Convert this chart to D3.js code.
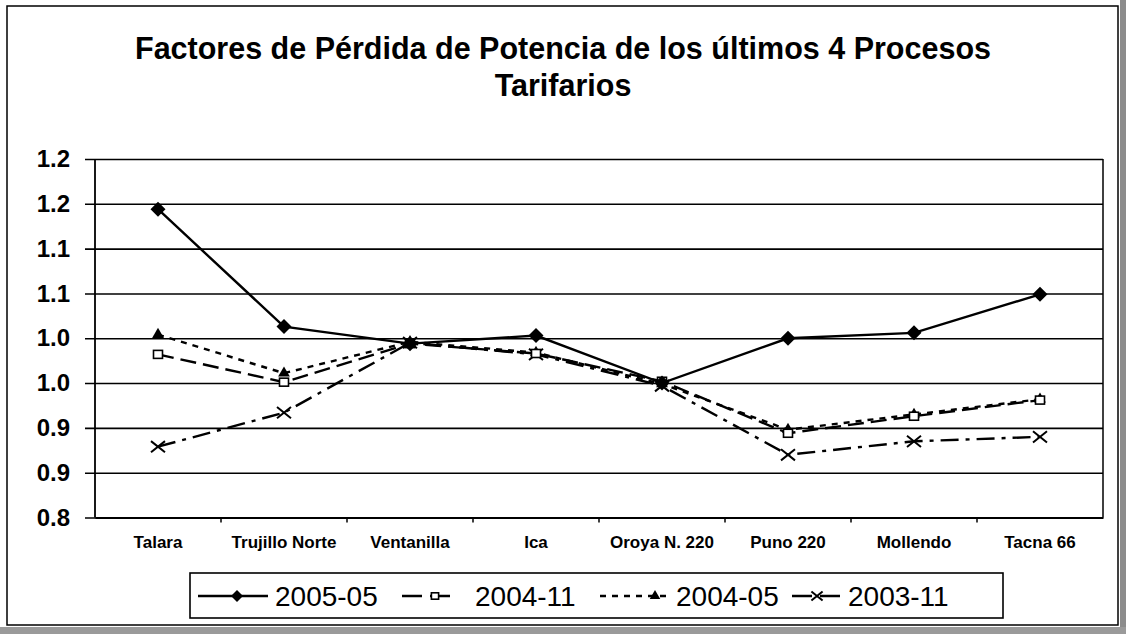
<!DOCTYPE html>
<html>
<head>
<meta charset="utf-8">
<script src="https://cdn.jsdelivr.net/npm/d3@7"></script>
<style>
  body { margin: 0; background: #fff; }
  text { font-family: "Liberation Sans", Arial, sans-serif; fill: #000; }
</style>
</head>
<body>
<div id="chart"></div>
<script>
// data
var categories = ['Talara', 'Trujillo Norte', 'Ventanilla', 'Ica', 'Oroya N. 220', 'Puno 220', 'Mollendo', 'Tacna 66'];
var serie200505 = [1.144, 1.013, 0.994, 1.003, 0.950, 1.000, 1.006, 1.049];
var serie200411 = [0.982, 0.951, 0.994, 0.983, 0.952, 0.894, 0.913, 0.931];
var serie200405 = [1.004, 0.961, 0.996, 0.984, 0.949, 0.898, 0.915, 0.932];
var serie200311 = [0.879, 0.917, 0.995, 0.982, 0.947, 0.870, 0.885, 0.890];
var seriesNames = ['2005-05', '2004-11', '2004-05', '2003-11'];
var yTicks = [0.8, 0.85, 0.9, 0.95, 1.0, 1.05, 1.1, 1.15, 1.2];
var yTickLabels = ['0.8', '0.9', '0.9', '1.0', '1.0', '1.1', '1.1', '1.2', '1.2'];

(function() {
var W = 1126, H = 634;
var pLeft = 95, pRight = 1103, pTop = 159, pBottom = 517.5;

var svg = d3.select('#chart').append('svg')
    .attr('width', W)
    .attr('height', H);

svg.append('rect').attr('width', W).attr('height', H).attr('fill', '#fff');

// scanned page edges
svg.append('rect').attr('x', 1120).attr('y', 0).attr('width', 6).attr('height', H).attr('fill', '#8c8c8c');
svg.append('rect').attr('x', 0).attr('y', 627).attr('width', W).attr('height', 7).attr('fill', '#9a9a9a');

// outer chart border
svg.append('rect')
    .attr('x', 7).attr('y', 6).attr('width', 1111).attr('height', 619)
    .attr('fill', 'none').attr('stroke', '#000').attr('stroke-width', 1.5);

// title
var title = svg.append('text')
    .attr('text-anchor', 'middle')
    .style('font-size', '30.5px')
    .style('font-weight', 'bold');
title.append('tspan').attr('x', 563).attr('y', 59).text('Factores de Pérdida de Potencia de los últimos 4 Procesos');
title.append('tspan').attr('x', 563).attr('y', 96).text('Tarifarios');

var x = d3.scaleBand().domain(categories).range([pLeft, pRight]).padding(0);
var y = d3.scaleLinear().domain([0.8, 1.2]).range([pBottom, pTop]);

// grid lines with outward ticks
var yAxis = d3.axisLeft(y)
    .tickValues(yTicks)
    .tickFormat(function(d, i) { return yTickLabels[i]; })
    .tickSizeOuter(0)
    .tickPadding(14);

var gy = svg.append('g')
    .attr('transform', 'translate(' + (pLeft - 10) + ',0)')
    .call(yAxis);
gy.select('.domain').remove();
gy.selectAll('.tick line')
    .attr('x1', 0).attr('x2', pRight - pLeft + 10)
    .attr('stroke', '#000').attr('stroke-width', 1.6);
gy.selectAll('.tick text')
    .attr('x', -15)
    .style('font-size', '24px')
    .style('font-weight', 'bold')
    .attr('fill', '#000');

// plot area frame
svg.append('line').attr('x1', pLeft).attr('x2', pLeft).attr('y1', pTop).attr('y2', pBottom)
    .attr('stroke', '#000').attr('stroke-width', 1.8);
svg.append('line').attr('x1', pRight).attr('x2', pRight).attr('y1', pTop).attr('y2', pBottom)
    .attr('stroke', '#000').attr('stroke-width', 1.5);

// x axis: ticks between categories
var xAxis = d3.axisBottom(x).tickSize(0).tickPadding(18);
var gx = svg.append('g')
    .attr('transform', 'translate(0,' + pBottom + ')')
    .call(xAxis);
gx.select('.domain').attr('stroke', '#000').attr('stroke-width', 1.8);
gx.selectAll('.tick text')
    .style('font-size', '17px')
    .style('font-weight', 'bold')
    .attr('fill', '#000');
gx.selectAll('.sep')
    .data(categories.slice(1))
    .enter().append('line')
    .attr('class', 'sep')
    .attr('x1', function(d) { return x(d); })
    .attr('x2', function(d) { return x(d); })
    .attr('y1', 0).attr('y2', 5)
    .attr('stroke', '#000').attr('stroke-width', 1.5);

var cx = function(i) { return x(categories[i]) + x.bandwidth() / 2; };

var seriesData = [
  { name: seriesNames[0], values: serie200505, dash: null, marker: 'diamond' },
  { name: seriesNames[1], values: serie200411, dash: '16,7', marker: 'square' },
  { name: seriesNames[2], values: serie200405, dash: '6,6', marker: 'triangle' },
  { name: seriesNames[3], values: serie200311, dash: '18,7,4,7', marker: 'cross' }
];

var line = d3.line()
    .x(function(d, i) { return cx(i); })
    .y(function(d) { return y(d); });

function drawMarker(g, type, px, py, s) {
  s = s || 1;
  if (type === 'diamond') {
    var r = 7.5 * s;
    g.append('path')
      .attr('d', 'M' + px + ',' + (py - r) + 'L' + (px + r) + ',' + py +
                 'L' + px + ',' + (py + r) + 'L' + (px - r) + ',' + py + 'Z')
      .attr('fill', '#000');
  } else if (type === 'square') {
    g.append('rect')
      .attr('x', px - 4.5 * s).attr('y', py - 4 * s)
      .attr('width', 9 * s).attr('height', 8 * s)
      .attr('fill', '#fff').attr('stroke', '#000').attr('stroke-width', 1.6);
  } else if (type === 'triangle') {
    g.append('path')
      .attr('d', d3.symbol().type(d3.symbolTriangle).size(60 * s)())
      .attr('transform', 'translate(' + px + ',' + py + ')')
      .attr('fill', '#000');
  } else {
    var q = 7 * s;
    g.append('path')
      .attr('d', 'M' + (px - q) + ',' + (py - q * 0.8) + 'L' + (px + q) + ',' + (py + q * 0.8) +
                 'M' + (px - q) + ',' + (py + q * 0.8) + 'L' + (px + q) + ',' + (py - q * 0.8))
      .attr('stroke', '#000').attr('stroke-width', 2).attr('fill', 'none');
  }
}

var plot = svg.append('g');
seriesData.slice().reverse().forEach(function(s) {
  plot.append('path')
    .datum(s.values)
    .attr('d', line)
    .attr('fill', 'none')
    .attr('stroke', '#000')
    .attr('stroke-width', 2.4)
    .attr('stroke-dasharray', s.dash);
  s.values.forEach(function(v, i) {
    drawMarker(plot, s.marker, cx(i), y(v));
  });
});

// legend
var legend = svg.append('g');
legend.append('rect')
    .attr('x', 190).attr('y', 573).attr('width', 813).attr('height', 45)
    .attr('fill', '#fff').attr('stroke', '#000').attr('stroke-width', 1.6);

var legendItems = [
  { x1: 198, x2: 268, m: 237, t: 275 },
  { x1: 402, x2: 455, m: 435, t: 475 },
  { x1: 600, x2: 668, m: 655, t: 676 },
  { x1: 792, x2: 840, m: 817, t: 848 }
];
legendItems.forEach(function(it, i) {
  var s = seriesData[i];
  legend.append('line')
    .attr('x1', it.x1).attr('x2', it.x2).attr('y1', 596).attr('y2', 596)
    .attr('stroke', '#000').attr('stroke-width', 2.4)
    .attr('stroke-dasharray', s.dash ? (i === 2 ? '6,6' : '20,8') : null);
  drawMarker(legend, s.marker, it.m, 596, 0.8);
  legend.append('text')
    .attr('x', it.t).attr('y', 606)
    .style('font-size', '28px')
    .text(s.name);
});
})();
</script>
</body>
</html>
